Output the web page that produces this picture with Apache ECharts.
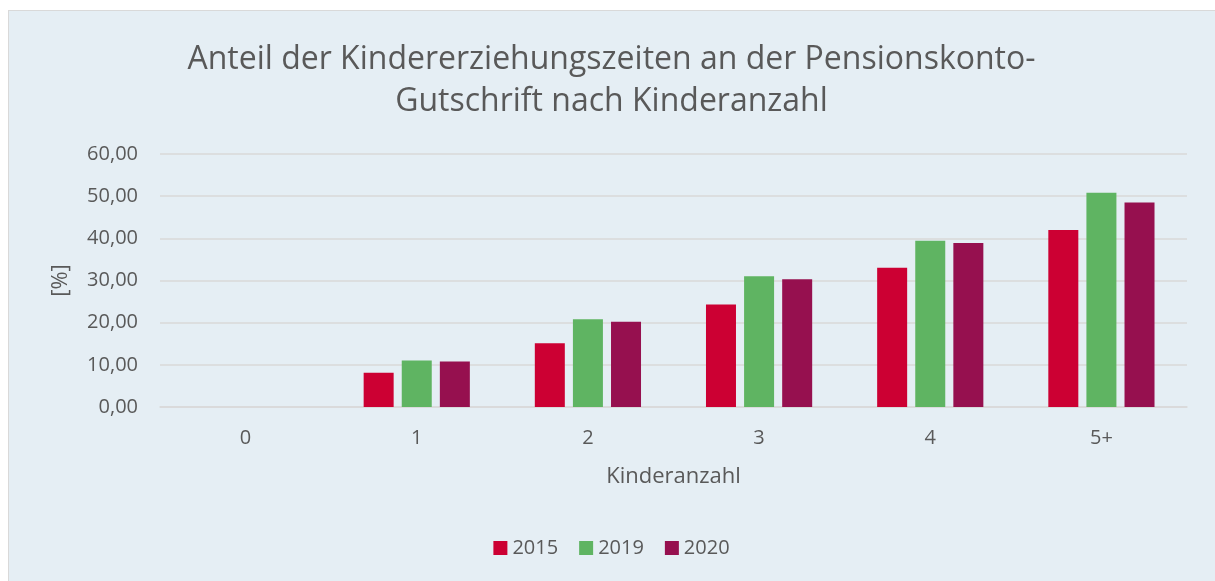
<!DOCTYPE html>
<html>
<head>
<meta charset="utf-8">
<script src="https://cdn.jsdelivr.net/npm/echarts@6/dist/echarts.min.js"></script>
<style>
    html, body { margin: 0; padding: 0; background: #fff; width: 1215px; height: 581px; overflow: hidden; }
    .frame {
        position: absolute; left: 8px; top: 10px; width: 1206px; height: 580px;
        border-top: 1px solid #d9d9d9; border-left: 1px solid #d9d9d9; border-right: 1px solid #d9d9d9;
        background: #e5eef4;
    }
    #main { width: 1205px; height: 570px; }
</style>
</head>
<body>
<div class="frame"><div id="main"></div></div>
<script>
// Kategorien und Werte
var categories = ['0', '1', '2', '3', '4', '5+']
var years = ['2015', '2019', '2020']
var values2015 = [0, 8.1, 15.1, 24.3, 33.0, 42.0]
var values2019 = [0, 11.0, 20.8, 31.0, 39.4, 50.8]
var values2020 = [0, 10.8, 20.2, 30.3, 38.9, 48.5]
var colors = ['#cc0033', '#5fb462', '#96104f']

var textColor = '#595959'
var font = "'Open Sans', 'Noto Sans', sans-serif"

var myChart = echarts.init(document.getElementById('main'))

function bar(name, data, color) {
    return {
        name: name,
        type: 'bar',
        barWidth: 30,
        barGap: '27%',
        itemStyle: {
            color: color
        },
        data: data
    }
}

var option = {
    animation: false,
    color: colors,
    textStyle: { fontFamily: font },
    title: {
        text: 'Anteil der Kindererziehungszeiten an der Pensionskonto-\nGutschrift nach Kinderanzahl',
        left: 'center',
        top: 23,
        textStyle: {
            fontFamily: font,
            fontSize: 32,
            fontWeight: 'normal',
            color: textColor,
            lineHeight: 42
        }
    },
    legend: {
        data: years,
        bottom: 18,
        left: 'center',
        icon: 'rect',
        itemWidth: 14,
        itemHeight: 14,
        itemGap: 21,
        textStyle: { fontSize: 20, color: textColor, fontFamily: font }
    },
    grid: {
        left: 151,
        right: 27,
        top: 143,
        bottom: 174,
        containLabel: false
    },
    xAxis: {
        type: 'category',
        data: categories,
        name: 'Kinderanzahl',
        nameLocation: 'middle',
        nameGap: 59,
        nameTextStyle: { fontSize: 22, color: textColor },
        axisLine: { lineStyle: { color: '#d9d9d9', width: 1.5 } },
        axisTick: { show: false },
        axisLabel: { fontSize: 20, color: textColor, margin: 21 }
    },
    yAxis: {
        type: 'value',
        min: 0,
        max: 60,
        interval: 10,
        name: '[%]',
        nameLocation: 'middle',
        nameGap: 88,
        nameTextStyle: { fontSize: 22, color: textColor },
        axisLine: { show: false },
        axisTick: { show: false },
        axisLabel: {
            fontSize: 20,
            color: textColor,
            margin: 22,
            formatter: function (v) { return v.toFixed(2).replace('.', ',') }
        },
        splitLine: { lineStyle: { color: '#d9d9d9', width: 1.5 } }
    },
    series: [
        bar(years[0], values2015, colors[0]),
        bar(years[1], values2019, colors[1]),
        bar(years[2], values2020, colors[2])
    ]
}

myChart.setOption(option)
window.addEventListener('resize', function () {
    myChart.resize()
})
</script>
</body>
</html>
